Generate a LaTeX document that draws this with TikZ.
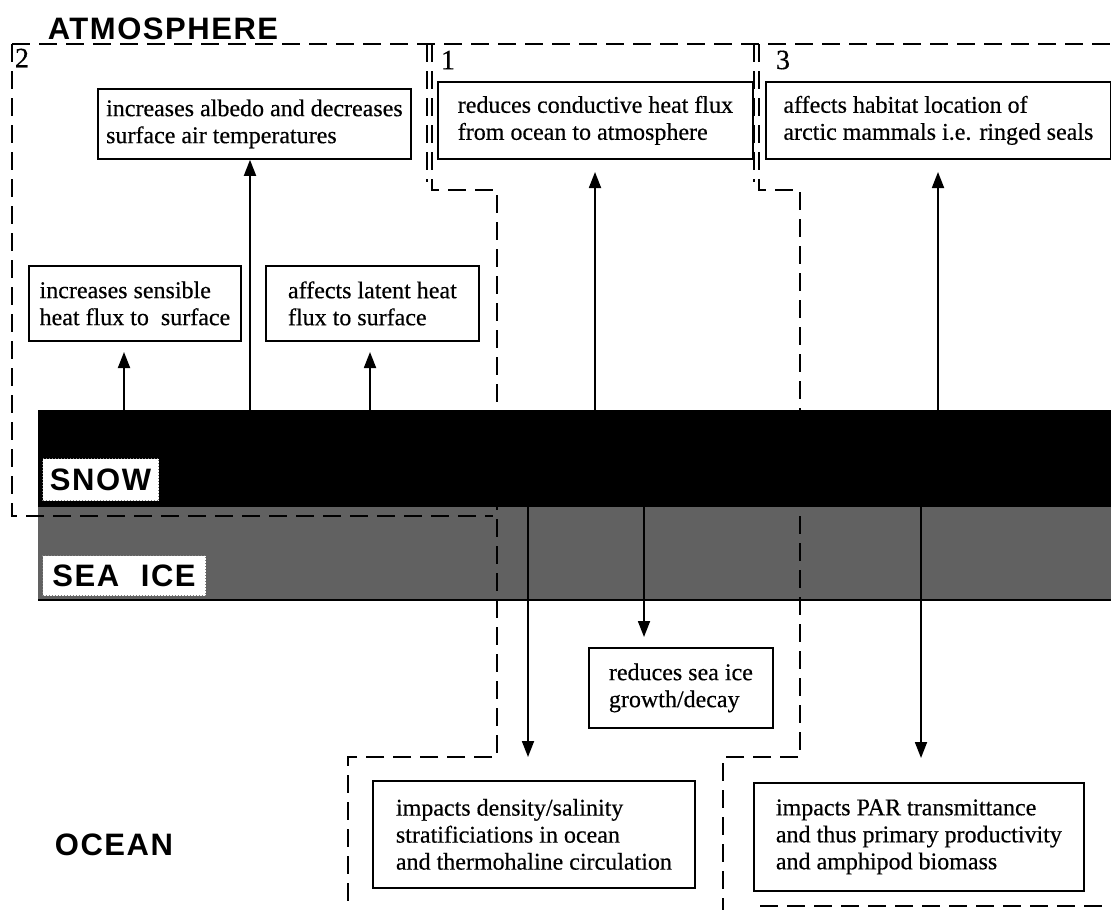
\documentclass[tikz,border=0pt]{standalone}
\usepackage{fontspec}
\setmainfont{Liberation Serif}
\newfontfamily\boxfont[FakeBold=0.4]{Liberation Serif}
\newfontfamily\hv[LetterSpace=5]{Liberation Sans}
\usetikzlibrary{arrows.meta,calc}
\begin{document}
\begin{tikzpicture}[x=1pt,y=-1pt,
  box/.style={draw, line width=1.8pt, fill=white, align=left,
    font=\boxfont\fontsize{24}{27}\selectfont, inner xsep=6pt, inner ysep=2pt, anchor=north west},
  region/.style={line width=2pt, dash pattern=on 18pt off 9pt},
  arr/.style={line width=1.8pt, -{Triangle[width=12pt,length=16pt]}},
  num/.style={font=\boxfont\fontsize{28}{28}\selectfont, inner sep=0pt},
  head/.style={font=\hv\bfseries\fontsize{31}{31}\selectfont, inner sep=0pt},
  lab/.style={font=\hv\bfseries\fontsize{31}{31}\selectfont, fill=white, draw=gray,
    dotted, line width=1pt, inner sep=2pt, anchor=north west},
  band/.style={anchor=north west, inner sep=0pt, minimum width=1073pt}
]
\useasboundingbox (0,0) rectangle (1111,910);
\fill[white] (0,0) rectangle (1111,910);

% layers
\node[band, fill=black, minimum height=97pt] (snow) at (38,410) {};
\node[band, fill=black!62, minimum height=93pt] (ice) at (38,507) {};
\draw[line width=2pt] (ice.south west) -- (ice.south east);

% dashed regions
\draw[region] (12,44) -- (1111,44);
\draw[region] (12,44) -- (12,516) -- (493,516);
\draw[region] (427,44) -- (427,182);
\draw[region] (432,44) -- (432,190) -- (497,190) -- (497,757) -- (348,757) -- (348,910);
\draw[region] (754,44) -- (754,182);
\draw[region] (759,44) -- (759,190) -- (800,190) -- (800,757) -- (723,757) -- (723,910);
\draw[region] (760,906) -- (1111,906);

% titles and numbers
\node[head] (atm) at (163,29) {ATMOSPHERE};
\node[head] (ocean) at (114,845) {OCEAN};
\node[num] (n2) at (22,58) {2};
\node[num] (n1) at (448,60) {1};
\node[num] (n3) at (783,60) {3};

% layer labels
\node[lab, minimum width=116pt, minimum height=42pt] (snowlab) at (42,458) {SNOW};
\node[lab, minimum width=163pt, minimum height=40pt] (icelab) at (42,555) {SEA\hspace{0.7em}ICE};

% boxes
\node[box, minimum width=313pt, minimum height=70pt] (albedo) at (97,88)
  {increases albedo and decreases\\surface air temperatures};
\node[box, minimum width=315pt, minimum height=77pt] (cond) at (437,81)
  {reduces conductive heat flux\\from ocean to atmosphere};
\node[box, minimum width=345pt, minimum height=77pt] (hab) at (765,81)
  {affects habitat location of\\arctic mammals i.e. ringed seals};
\node[box, minimum width=212pt, minimum height=75pt] (sens) at (28,265)
  {increases sensible\\heat flux to\ \ surface};
\node[box, minimum width=213pt, minimum height=75pt] (lat) at (265,265)
  {affects latent heat\\flux to surface};
\node[box, minimum width=184pt, minimum height=80pt] (growth) at (588,647)
  {reduces sea ice\\growth/decay};
\node[box, minimum width=322pt, minimum height=107pt] (dens) at (372,780)
  {impacts density/salinity\\stratificiations in ocean\\and thermohaline circulation};
\node[box, minimum width=330pt, minimum height=108pt] (par) at (753,782)
  {impacts PAR transmittance\\and thus primary productivity\\and amphipod biomass};

% arrows
\coordinate (t1) at (124,352);
\coordinate (t2) at (250,160);
\coordinate (t3) at (370,352);
\coordinate (t4) at (595,172);
\coordinate (t5) at (938,172);
\coordinate (t6) at (528,757);
\coordinate (t7) at (644,637);
\coordinate (t8) at (921,758);
\draw[arr] (t1 |- snow.north) -- (t1);
\draw[arr] (t2 |- snow.north) -- (albedo.south -| t2);
\draw[arr] (t3 |- snow.north) -- (t3);
\draw[arr] (t4 |- snow.north) -- (t4);
\draw[arr] (t5 |- snow.north) -- (t5);
\draw[arr] (t6 |- snow.south) -- (t6);
\draw[arr] (t7 |- snow.south) -- (t7);
\draw[arr] (t8 |- snow.south) -- (t8);
\end{tikzpicture}
\end{document}
